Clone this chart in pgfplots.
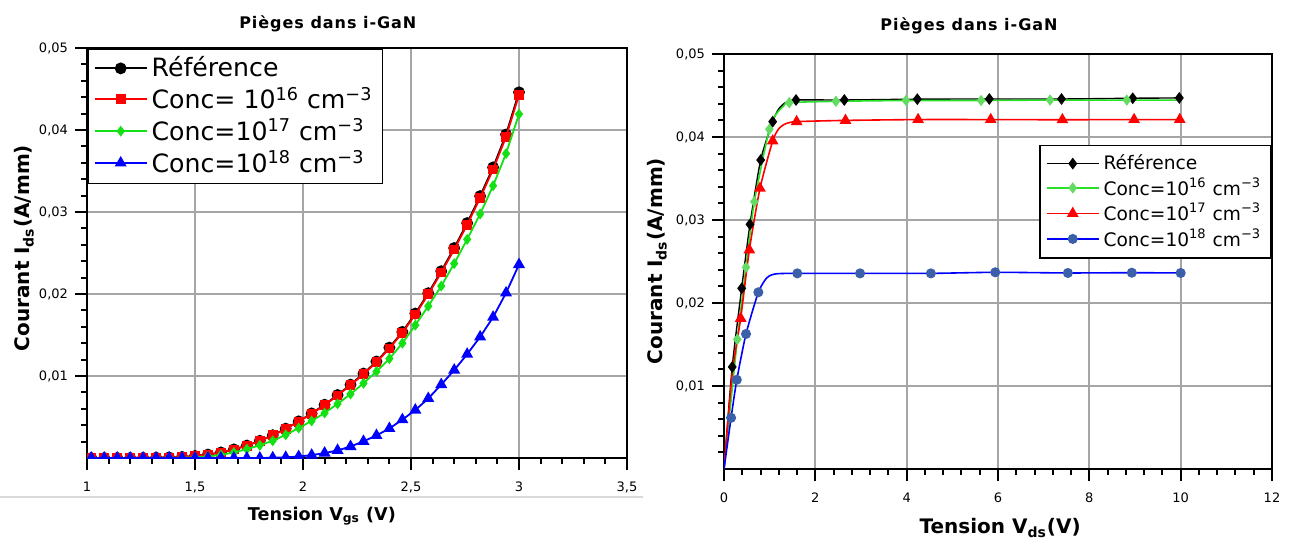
\documentclass[border=0pt]{standalone}
\usepackage{pgfplots}
\usepackage{pgfplotstable}
\pgfplotsset{compat=1.18}
\usepackage{fontspec}
\setmainfont{DejaVu Sans}

\definecolor{lgreen}{RGB}{20,225,20}
\definecolor{rgreenline}{RGB}{40,225,40}
\definecolor{rgreenmark}{RGB}{100,220,100}
\definecolor{rbluemark}{RGB}{60,95,170}
\definecolor{gridgray}{RGB}{165,165,165}

\newcommand{\titlefnt}{\fontsize{8}{9}\selectfont\bfseries\addfontfeatures{LetterSpace=6}}

\pgfplotstableread{
x ref red green blue
1.02 0.00000 0.00000 0.00000 0
1.08 0.00000 0.00000 0.00000 0
1.14 0.00001 0.00001 0.00000 0
1.20 0.00001 0.00001 0.00000 0
1.26 0.00002 0.00002 0.00000 0
1.32 0.00004 0.00004 0.00001 0
1.38 0.00007 0.00007 0.00002 0
1.44 0.00013 0.00013 0.00004 0
1.50 0.00025 0.00024 0.00009 0
1.56 0.00042 0.00041 0.00019 0
1.62 0.00068 0.00067 0.00038 0
1.68 0.00105 0.00104 0.00068 0
1.74 0.00152 0.00150 0.00108 0
1.80 0.00210 0.00208 0.00155 0
1.86 0.00278 0.00276 0.00210 0.00003
1.92 0.00358 0.00355 0.00283 0.00008
1.98 0.00447 0.00444 0.00365 0.00018
2.04 0.00544 0.00540 0.00452 0.00035
2.10 0.00650 0.00645 0.00549 0.00060
2.16 0.00768 0.00762 0.00660 0.00093
2.22 0.00895 0.00888 0.00780 0.00140
2.28 0.01030 0.01022 0.00911 0.00203
2.34 0.01177 0.01168 0.01055 0.00275
2.40 0.01346 0.01336 0.01211 0.00360
2.46 0.01538 0.01527 0.01400 0.00468
2.52 0.01762 0.01750 0.01620 0.00585
2.58 0.02010 0.01996 0.01852 0.00726
2.64 0.02278 0.02262 0.02097 0.00895
2.70 0.02561 0.02543 0.02371 0.01072
2.76 0.02865 0.02845 0.02667 0.01266
2.82 0.03194 0.03172 0.02975 0.01477
2.88 0.03544 0.03519 0.03320 0.01717
2.94 0.03945 0.03917 0.03713 0.02013
3.00 0.04460 0.04429 0.04194 0.02359
}\leftdata

% right plot: reference
\pgfplotstableread{
x y
0 0
0.180 0.01230
0.387 0.02177
0.569 0.02948
0.803 0.03723
1.066 0.04185
1.200 0.04340
1.350 0.04415
1.577 0.04446
2.635 0.04446
4.233 0.04456
5.810 0.04458
7.390 0.04458
8.950 0.04467
9.970 0.04471
}\refR

\pgfplotstableread{
x y
0 0
0.292 0.01562
0.482 0.02430
0.664 0.03220
0.993 0.04093
1.150 0.04280
1.300 0.04370
1.430 0.04414
2.450 0.04430
3.985 0.04440
5.630 0.04440
7.140 0.04445
8.820 0.04445
10.00 0.04445
}\greenR

\pgfplotstableread{
x y
0 0
0.180 0.01150
0.365 0.01815
0.555 0.02639
0.788 0.03382
1.066 0.03952
1.200 0.04100
1.350 0.04160
1.590 0.04185
2.660 0.04200
4.250 0.04210
5.840 0.04210
7.410 0.04208
8.980 0.04210
9.980 0.04210
}\redR

\pgfplotstableread{
x y
0 0
0.155 0.00617
0.280 0.01075
0.482 0.01627
0.752 0.02129
0.930 0.02300
1.050 0.02340
1.150 0.02352
1.300 0.02356
1.605 0.02357
2.980 0.02357
4.530 0.02357
5.940 0.02370
7.530 0.02362
8.930 0.02365
10.00 0.02362
}\blueR

\pgfplotsset{
  base/.style={
    scale only axis,
    axis line style={line width=1pt},
    tick pos=left,
    tick align=outside,
    major tick length=6pt,
    minor tick length=3pt,
    tick style={black, line width=1pt},
    grid=major,
    major grid style={line width=0.9pt, color=gridgray},
    tick label style={font=\fontsize{6.5}{7}\selectfont},
    xticklabel shift=2.5pt,
    ymin=0, ymax=0.05,
    ytick={0.01,0.02,0.03,0.04,0.05},
    yticklabels={{0,01},{0,02},{0,03},{0,04},{0,05}},
    minor ytick={0.002,0.004,0.006,0.008,0.012,0.014,0.016,0.018,0.022,0.024,0.026,0.028,0.032,0.034,0.036,0.038,0.042,0.044,0.046,0.048},
    scaled y ticks=false,
    scaled x ticks=false,
    legend cell align=left,
    legend image code/.code={\draw[mark indices={2}] plot coordinates {(0pt,0pt) (13pt,0pt) (26pt,0pt)};},
  }
}

\begin{document}
\begin{tikzpicture}
\path[use as bounding box] (0pt,0pt) rectangle (644.5pt,271.5pt);
\draw[gray!30, line width=0.8pt] (0pt,23pt) -- (321.5pt,23pt);

\begin{axis}[base,
  at={(43.5pt,42.5pt)}, anchor=south west,
  width=270pt, height=205pt,
  xmin=1, xmax=3.5,
  xtick={1,1.5,2,2.5,3,3.5},
  xticklabels={1,{1,5},2,{2,5},3,{3,5}},
  minor x tick num=4,
  clip marker paths=true,
  title={Pièges dans i-GaN},
  title style={at={(axis description cs:0.446,1.060)}, anchor=center, yshift=-6pt, font=\titlefnt},
  xlabel={Tension V\textsubscript{gs} (V)},
  xlabel style={at={(axis description cs:0.435,-0.1415)}, anchor=center, font=\fontsize{8.8}{10}\selectfont\bfseries},
  ylabel={Courant I\textsubscript{ds}(A/mm)},
  ylabel style={at={(axis description cs:-0.116,0.512)}, anchor=center, font=\fontsize{10}{11}\selectfont\bfseries},
  legend style={at={(rel axis cs:0,1)}, anchor=north west, draw=black, line width=0.8pt, fill=white,
    font=\fontsize{12.6}{13}\selectfont, inner xsep=3pt, inner ysep=2pt, row sep=-0.5pt},
]
\addplot[black, line width=0.9pt, mark=*, mark size=2.5pt] table[x=x,y=ref] {\leftdata};
\addlegendentry{Référence}
\addplot[red, line width=0.9pt, mark=square*, mark size=2pt] table[x=x,y=red] {\leftdata};
\addlegendentry{Conc= 10\textsuperscript{16} cm\textsuperscript{−3}}
\addplot[lgreen, line width=0.9pt, mark=diamond*, mark size=2pt] table[x=x,y=green] {\leftdata};
\addlegendentry{Conc=10\textsuperscript{17} cm\textsuperscript{−3}}
\addplot[blue, line width=0.9pt, mark=triangle*, mark size=2.6pt] table[x=x,y=blue] {\leftdata};
\addlegendentry{Conc=10\textsuperscript{18} cm\textsuperscript{−3}}
\end{axis}

\begin{axis}[base,
  at={(362pt,37pt)}, anchor=south west,
  width=274pt, height=207.5pt,
  xmin=0, xmax=12,
  xtick={0,2,4,6,8,10,12},
  xticklabels={0,2,4,6,8,10,12},
  minor x tick num=4,
  title={Pièges dans i-GaN},
  title style={at={(axis description cs:0.447,1.067)}, anchor=center, yshift=-6pt, font=\titlefnt},
  xlabel={Tension V\textsubscript{ds}(V)},
  xlabel style={at={(axis description cs:0.504,-0.142)}, anchor=center, font=\fontsize{10}{11}\selectfont\bfseries},
  ylabel={Courant I\textsubscript{ds}(A/mm)},
  ylabel style={at={(axis description cs:-0.122,0.501)}, anchor=center, font=\fontsize{10}{11}\selectfont\bfseries},
  legend style={at={(rel axis cs:1,0.781)}, anchor=north east, draw=black, line width=0.8pt, fill=white,
    font=\fontsize{9.3}{10}\selectfont, inner xsep=3pt, inner ysep=2.5pt, row sep=-1.4pt},
]
\addplot[black, line width=0.7pt, smooth, tension=0.4, mark=diamond*, mark size=2.4pt,
  mark indices={2,3,4,5,6,9,10,11,12,13,14,15}] table[x=x,y=y] {\refR};
\addlegendentry{Référence}
\addplot[rgreenline, line width=0.8pt, smooth, tension=0.4, mark=diamond*, mark size=2.2pt,
  mark options={draw=rgreenmark, fill=rgreenmark},
  mark indices={2,3,4,5,8,9,10,11,12,13}] table[x=x,y=y] {\greenR};
\addlegendentry{Conc=10\textsuperscript{16} cm\textsuperscript{−3}}
\addplot[red, line width=0.8pt, smooth, tension=0.4, mark=triangle*, mark size=2.6pt,
  mark indices={3,4,5,6,9,10,11,12,13,14,15}] table[x=x,y=y] {\redR};
\addlegendentry{Conc=10\textsuperscript{17} cm\textsuperscript{−3}}
\addplot[blue, line width=0.8pt, smooth, tension=0.4, mark=*, mark size=2.1pt,
  mark options={draw=rbluemark, fill=rbluemark},
  mark indices={2,3,4,5,10,11,12,13,14,15,16}] table[x=x,y=y] {\blueR};
\addlegendentry{Conc=10\textsuperscript{18} cm\textsuperscript{−3}}
\end{axis}
\end{tikzpicture}
\end{document}
